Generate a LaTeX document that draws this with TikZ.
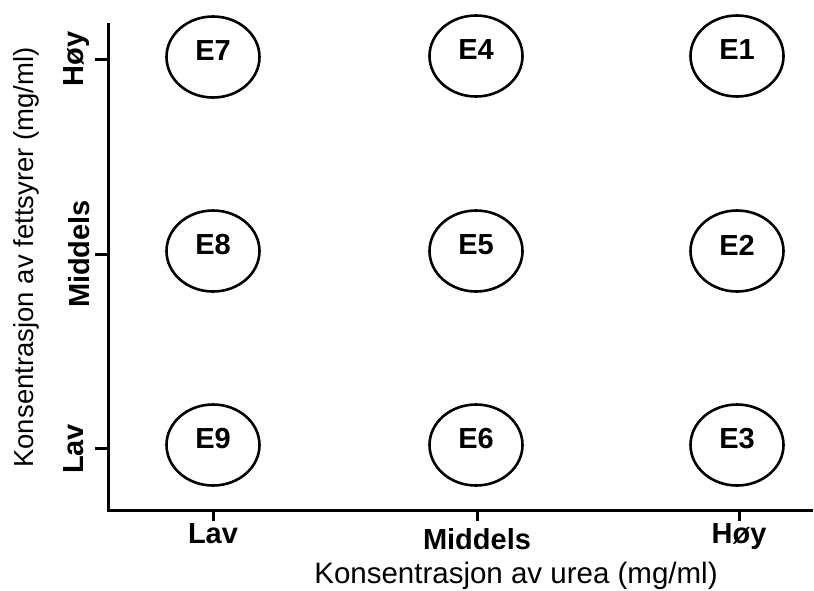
\documentclass[tikz,border=0pt]{standalone}
\usepackage{fontspec}
\setmainfont{Liberation Sans}
\usetikzlibrary{shapes.geometric}
\begin{document}
\begin{tikzpicture}[x=1pt,y=-1pt,
  axisline/.style={line width=3pt, line cap=butt},
  stateell/.style={draw, ellipse, line width=2.6pt, minimum width=93pt, minimum height=81pt, inner sep=0pt},
  statelbl/.style={inner sep=0pt, font=\fontsize{29}{33}\selectfont\bfseries},
  ticklbl/.style={inner sep=0pt, anchor=base, font=\fontsize{29}{33}\selectfont\bfseries},
  titlelbl/.style={inner sep=0pt, anchor=base}]
\useasboundingbox (0,0) rectangle (814,590);
% axes
\coordinate (ytop) at (108,23);
\coordinate (orig) at (108,510);
\coordinate (xend) at (813,510);
\draw[axisline] (ytop) -- (orig) -- (xend);
% y ticks
\coordinate (yt1a) at (108,59);  \coordinate (yt1b) at (95,59);
\coordinate (yt2a) at (108,254); \coordinate (yt2b) at (95,254);
\coordinate (yt3a) at (108,448); \coordinate (yt3b) at (95,448);
\draw[axisline] (yt1a) -- (yt1b);
\draw[axisline] (yt2a) -- (yt2b);
\draw[axisline] (yt3a) -- (yt3b);
% x ticks
\coordinate (xt1a) at (213,510); \coordinate (xt1b) at (213,521);
\coordinate (xt2a) at (477,510); \coordinate (xt2b) at (477,521);
\coordinate (xt3a) at (739,510); \coordinate (xt3b) at (739,521);
\draw[axisline] (xt1a) -- (xt1b);
\draw[axisline] (xt2a) -- (xt2b);
\draw[axisline] (xt3a) -- (xt3b);
% tick labels
\node[ticklbl] (xl1) at (213,543) {Lav};
\node[ticklbl] (xl2) at (477,549) {Middels};
\node[ticklbl] (xl3) at (739,543) {Høy};
\node[ticklbl, rotate=90] (yl1) at (83,59) {Høy};
\node[ticklbl, rotate=90] (yl2) at (89,254) {Middels};
\node[ticklbl, rotate=90] (yl3) at (83,449) {Lav};
% titles
\node[titlelbl, font=\fontsize{29.5}{33}\selectfont] (xtitle) at (516,583) {Konsentrasjon av urea (mg/ml)};
\node[titlelbl, rotate=90, font=\fontsize{27.5}{31}\selectfont] (ytitle) at (33,257.5) {Konsentrasjon av fettsyrer (mg/ml)};
% states
\foreach \nm/\cx/\cy in {E7/213/57, E4/476/56, E1/737/56,
                         E8/213/251, E5/476/251, E2/737/251,
                         E9/213/445, E6/476/445, E3/737/445}{
  \node[stateell] (\nm) at (\cx,\cy) {};
  \node[statelbl] (\nm-t) at ([yshift=6pt]\nm.center) {\nm};
}
\end{tikzpicture}
\end{document}
